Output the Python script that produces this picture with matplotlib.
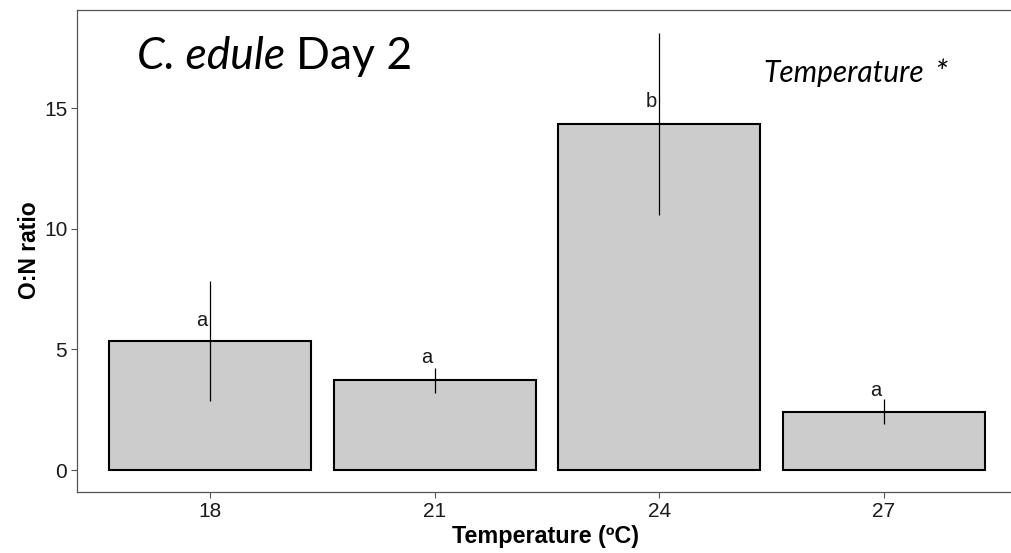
import numpy as np
import matplotlib
matplotlib.use("Agg")
import matplotlib.pyplot as plt

# data
temps = ["18", "21", "24", "27"]
on_ratio = [5.36, 3.72, 14.35, 2.42]
se = [2.48, 0.52, 3.77, 0.52]
letters = ["a", "a", "b", "a"]
letter_y = [6.22, 4.65, 15.27, 3.32]

W, H = 1012, 553
fig = plt.figure(figsize=(W / 100, H / 100), dpi=100)
ax = fig.add_axes([77 / W, (H - 492) / H, (W - 77) / W, (492 - 10) / H])

x = np.arange(1, len(temps) + 1)
ax.bar(x, on_ratio, width=0.9, color="#cccccc", edgecolor="black", linewidth=1.5, zorder=2)
ax.vlines(x, np.array(on_ratio) - np.array(se), np.array(on_ratio) + np.array(se),
          color="black", linewidth=0.9, zorder=3)

for xi, lab, ly in zip(x, letters, letter_y):
    ax.text(xi - 0.036, ly, lab, ha="center", va="center", fontsize=14.5,
            family="Liberation Sans", color="#1a1a1a", zorder=4)

ax.set_xlim(0.408, 4.57)
ax.set_ylim(-0.91, 19.08)
ax.set_xticks(x)
ax.set_xticklabels(temps)
ax.set_yticks([0, 5, 10, 15])
ax.tick_params(axis="both", length=4, width=0.8, color="#555555",
               labelsize=15, labelcolor="#1a1a1a", pad=3)
for lab in ax.get_xticklabels() + ax.get_yticklabels():
    lab.set_family("Liberation Sans")

for side in ["left", "bottom", "top"]:
    ax.spines[side].set_color("#555555")
    ax.spines[side].set_linewidth(0.9)
ax.spines["right"].set_visible(False)

# title: italic species name then plain "Day 2"
t1 = ax.text(0.064, 0.8776, "C. edule", transform=ax.transAxes, fontsize=32,
             family="Lato", style="italic", va="baseline", ha="left")
fig.canvas.draw()
bb = t1.get_window_extent()
inv = ax.transAxes.inverted()
x_end = inv.transform((bb.x1, bb.y0))[0]
ax.text(x_end + 0.012, 0.8776, "Day 2", transform=ax.transAxes, fontsize=32,
        family="Lato", va="baseline", ha="left")

t2 = ax.text(0.734, 0.851, "Temperature", transform=ax.transAxes, fontsize=21.5,
             family="Lato", style="italic", va="baseline", ha="left")
fig.canvas.draw()
x_end2 = inv.transform((t2.get_window_extent().x1, 0))[0]
ax.text(x_end2 + 0.011, 0.849, "*", transform=ax.transAxes, fontsize=24,
        family="Lato", style="italic", va="baseline", ha="left")

fig.text(30 / W, 1 - 250 / H, "O:N ratio", rotation=90, ha="center", va="center",
         fontsize=16.5, fontweight="bold", family="Liberation Sans")
fig.text(546 / W, 1 - 537 / H, "Temperature (ºC)", ha="center", va="center",
         fontsize=16.8, fontweight="bold", family="Liberation Sans")

fig.savefig("out.png", dpi=100)
